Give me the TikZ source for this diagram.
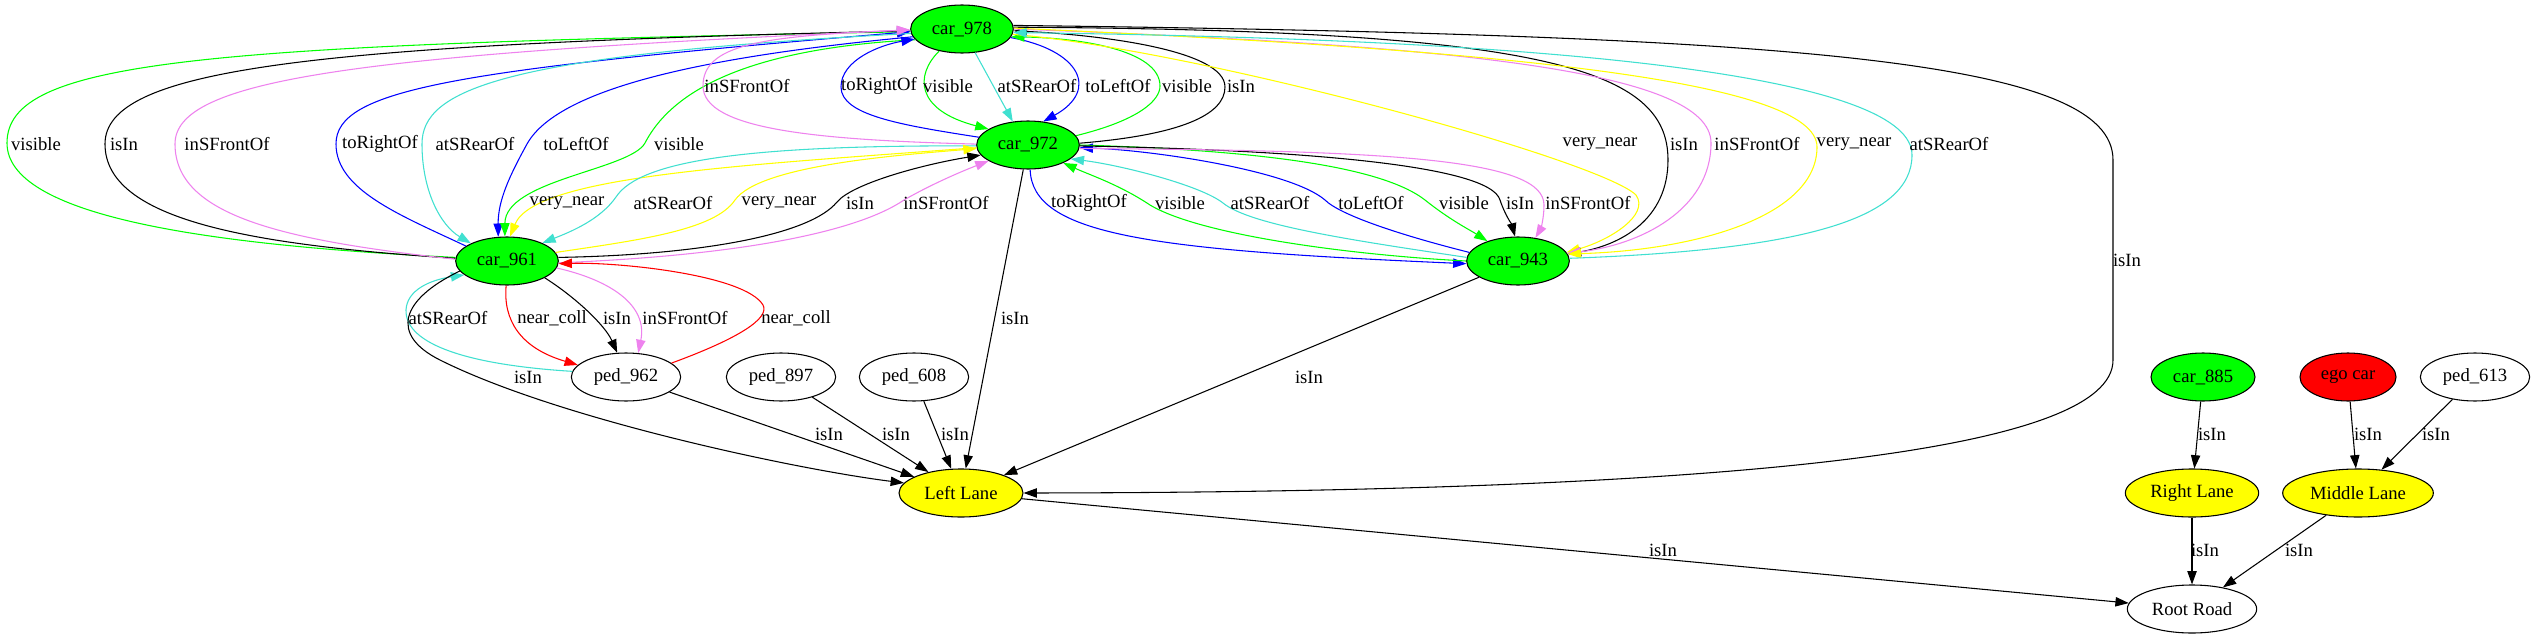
\documentclass[tikz,border=0pt]{standalone}
\usepackage{fontspec}
\setmainfont{Liberation Serif}
\usepackage{xcolor}
\definecolor{Lime}{HTML}{00FF00}
\definecolor{Turq}{HTML}{40E0D0}
\definecolor{Violet}{HTML}{EE82EE}
\definecolor{Yellow}{HTML}{FFFF00}
\definecolor{Blue}{HTML}{0000FF}
\definecolor{Red}{HTML}{FF0000}
\colorlet{lime}{Lime}
\colorlet{turq}{Turq}
\colorlet{viol}{Violet}
\colorlet{yell}{Yellow}
\colorlet{bluex}{Blue}
\colorlet{redx}{Red}
\usepackage{tikz}
\usetikzlibrary{arrows.meta,shapes.geometric}

\begin{document}
\begin{tikzpicture}[x=0.75pt,y=-0.75pt,
  every node/.style={font=\fontsize{14}{16}\selectfont},
  obj/.style={ellipse,draw,line width=0.8pt,minimum height=36pt,inner sep=0pt},
  car/.style={obj,fill=lime,minimum width=77pt},
  ped/.style={obj,fill=white,minimum width=82pt},
  lane/.style={obj,fill=yell},
  rel/.style={line width=0.8pt,-{Triangle[length=10pt,width=7pt]}},
  e vis/.style={rel,color=lime},
  e isin/.style={rel,color=black},
  e front/.style={rel,color=viol},
  e right/.style={rel,color=bluex},
  e left/.style={rel,color=bluex},
  e rear/.style={rel,color=turq},
  e vnear/.style={rel,color=yell},
  e coll/.style={rel,color=redx},
  lbl/.style={text=black,inner sep=0pt}]
\useasboundingbox (0,0) rectangle (2535,639);
\fill[white] (0,0) rectangle (2535,639);
% objects
\node[car] (c978) at (962,29) {car\_978};
\node[car] (c972) at (1028,145) {car\_972};
\node[car] (c961) at (507,261) {car\_961};
\node[car] (c943) at (1518,261) {car\_943};
\node[ped] (p962) at (626,377) {ped\_962};
\node[ped] (p897) at (781,377) {ped\_897};
\node[ped] (p608) at (914,377) {ped\_608};
\node[car,minimum width=78pt] (c885) at (2203,377) {car\_885};
\node[obj,fill=redx,minimum width=72pt] (ego) at (2348,377) {ego car};
\node[ped] (p613) at (2475,377) {ped\_613};
\node[lane,minimum width=93pt] (LL) at (961,493) {Left Lane};
\node[lane,minimum width=100pt] (RL) at (2192,493) {Right Lane};
\node[lane,minimum width=113pt] (ML) at (2358,493) {Middle Lane};
\node[ped,minimum width=97pt] (RR) at (2192,609) {Root Road};
% car_961 <-> car_978
\draw[e vis] (c961.176) .. controls (200,245) and (7,215) .. (7,143) .. controls (7,60) and (200,45) .. (c978.183) node[lbl] at (36,144) {visible};
\draw[e isin] (c961.177) .. controls (250,245) and (105,220) .. (105,144) .. controls (105,70) and (300,45) .. (c978.182) node[lbl] at (124,144) {isIn};
\draw[e front] (c961.178) .. controls (280,240) and (175,215) .. (175,144) .. controls (175,80) and (350,55) .. (c978.181) node[lbl] at (227,144) {inSFrontOf};
\draw[e right] (c961.160) .. controls (400,215) and (336,190) .. (336,144) .. controls (336,90) and (450,70) .. (c978.183) node[lbl] at (380,144) {toRightOf};
\draw[e rear] (c978.185) .. controls (500,55) and (422,90) .. (422,144) .. controls (422,190) and (440,225) .. (c961.154) node[lbl] at (475,144) {atSRearOf};
\draw[e left] (c978.189) .. controls (720,55) and (560,85) .. (527,144) .. controls (510,175) and (498,200) .. (c961.110) node[lbl] at (576,144) {toLeftOf};
\draw[e vis] (c978.193) .. controls (760,48) and (675,85) .. (645,143) .. controls (630,170) and (505,180) .. (c961.95) node[lbl] at (679,144) {visible};
% car_972 <-> car_978
\draw[e front] (c972.179) .. controls (820,140) and (703,130) .. (703,86) .. controls (703,45) and (760,36) .. (c978.181) node[lbl] at (747,86) {inSFrontOf};
\draw[e right] (c972.171) .. controls (900,125) and (841,115) .. (841,87) .. controls (841,60) and (880,45) .. (c978.192) node[lbl] at (879,86) {toRightOf};
\draw[e vis] (c978.224) .. controls (915,75) and (915,110) .. (c972.158) node[lbl] at (948,86) {visible};
\draw[e rear] (c978.299) -- (c972.123) node[lbl] at (1037,86) {atSRearOf};
\draw[e left] (c978.350) .. controls (1080,50) and (1100,90) .. (c972.57) node[lbl] at (1118,86) {toLeftOf};
\draw[e vis] (c972.11) .. controls (1140,120) and (1160,100) .. (1160,86) .. controls (1160,50) and (1080,38) .. (c978.351) node[lbl] at (1187,86) {visible};
\draw[e isin] (c972.2) .. controls (1180,135) and (1225,115) .. (1225,87) .. controls (1225,50) and (1100,35) .. (c978.358) node[lbl] at (1241,86) {isIn};
% car_978 <-> car_943
\draw[e vnear] (c978.354) .. controls (1200,50) and (1600,160) .. (1636,195) .. controls (1650,215) and (1610,240) .. (c943.10) node[lbl] at (1600,144) {very\_near};
\draw[e isin] (c978.2) .. controls (1550,30) and (1668,70) .. (1668,160) .. controls (1668,220) and (1620,245) .. (c943.8) node[lbl] at (1684,144) {isIn};
\draw[e front] (c978.0) .. controls (1450,45) and (1711,70) .. (1711,143) .. controls (1711,210) and (1640,245) .. (c943.9) node[lbl] at (1757,144) {inSFrontOf};
\draw[e vnear] (c978.1) .. controls (1500,50) and (1817,80) .. (1817,147) .. controls (1817,215) and (1700,250) .. (c943.8) node[lbl] at (1854,144) {very\_near};
\draw[e rear] (c943.3) .. controls (1800,250) and (1912,220) .. (1912,155) .. controls (1912,80) and (1600,40) .. (c978.356) node[lbl] at (1949,144) {atSRearOf};
\draw[e isin] (c978.4) .. controls (1800,35) and (2113,60) .. (2113,160) -- (2113,360) .. controls (2113,450) and (1750,492) .. (LL.0) node[lbl] at (2127,260) {isIn};
% car_972 <-> car_961
\draw[e vnear] (c972.183) .. controls (750,165) and (535,175) .. (c961.83) node[lbl] at (567,203) {very\_near};
\draw[e rear] (c972.181) .. controls (750,145) and (640,160) .. (616,197) .. controls (600,220) and (570,232) .. (c961.27) node[lbl] at (673,203) {atSRearOf};
\draw[e vnear] (c961.10) .. controls (640,240) and (715,230) .. (735,200) .. controls (760,165) and (900,155) .. (c972.184) node[lbl] at (779,203) {very\_near};
\draw[e isin] (c961.4) .. controls (700,255) and (810,235) .. (837,202) .. controls (852,184) and (920,165) .. (c972.192) node[lbl] at (860,203) {isIn};
\draw[e front] (c961.358) .. controls (750,255) and (860,230) .. (904,200) .. controls (930,185) and (960,172) .. (c972.202) node[lbl] at (946,203) {inSFrontOf};
% car_972 <-> car_943
\draw[e right] (c972.275) .. controls (1032,235) and (1150,250) .. (c943.183) node[lbl] at (1089,203) {toRightOf};
\draw[e vis] (c943.180) .. controls (1350,255) and (1200,235) .. (1150,205) .. controls (1120,185) and (1090,175) .. (c972.333) node[lbl] at (1180,203) {visible};
\draw[e rear] (c943.176) .. controls (1350,240) and (1250,225) .. (1223,203) .. controls (1200,185) and (1120,165) .. (c972.342) node[lbl] at (1270,203) {atSRearOf};
\draw[e left] (c943.170) .. controls (1400,235) and (1340,215) .. (1325,200) .. controls (1290,170) and (1150,150) .. (c972.357) node[lbl] at (1371,203) {toLeftOf};
\draw[e vis] (c972.0) .. controls (1250,150) and (1380,165) .. (1425,200) .. controls (1450,220) and (1470,230) .. (c943.147) node[lbl] at (1464,203) {visible};
\draw[e isin] (c972.359) .. controls (1300,150) and (1490,165) .. (1500,200) .. controls (1505,215) and (1512,225) .. (c943.97) node[lbl] at (1520,203) {isIn};
\draw[e front] (c972.356) .. controls (1400,150) and (1544,160) .. (1544,205) .. controls (1544,220) and (1540,230) .. (c943.53) node[lbl] at (1588,203) {inSFrontOf};
% car_961 <-> ped_962
\draw[e coll] (c961.268) .. controls (503,320) and (520,348) .. (p962.166) node[lbl] at (552,318) {near\_coll};
\draw[e isin] (c961.336) .. controls (575,297) and (605,325) .. (p962.110) node[lbl] at (617,318) {isIn};
\draw[e front] (c961.352) .. controls (610,280) and (648,305) .. (p962.63) node[lbl] at (685,318) {inSFrontOf};
\draw[e coll] (p962.17) .. controls (740,338) and (770,318) .. (763,305) .. controls (745,275) and (620,262) .. (c961.357) node[lbl] at (796,318) {near\_coll};
\draw[e rear] (p962.174) .. controls (470,365) and (405,345) .. (406,310) .. controls (407,290) and (430,280) .. (c961.198) node[lbl] at (448,318) {atSRearOf};
% into the lanes
\draw[e isin] (c961.192) .. controls (400,300) and (390,335) .. (440,360) .. controls (560,420) and (800,470) .. (LL.170) node[lbl] at (528,377) {isIn};
\draw[e isin] (p962) -- (LL) node[lbl] at (829,434) {isIn};
\draw[e isin] (p897) -- (LL) node[lbl] at (896,434) {isIn};
\draw[e isin] (p608) -- (LL) node[lbl] at (955,434) {isIn};
\draw[e isin] (c972) -- (LL) node[lbl] at (1015,318) {isIn};
\draw[e isin] (c943) -- (LL) node[lbl] at (1309,377) {isIn};
\draw[e isin] (c885) -- (RL) node[lbl] at (2212,434) {isIn};
\draw[e isin] (ego) -- (ML) node[lbl] at (2368,434) {isIn};
\draw[e isin] (p613) -- (ML) node[lbl] at (2436,434) {isIn};
\draw[e isin] (LL) -- (RR) node[lbl] at (1663,550) {isIn};
\draw[e isin] (RL) -- (RR) node[lbl] at (2205,550) {isIn};
\draw[e isin] (ML) -- (RR) node[lbl] at (2299,550) {isIn};
\end{tikzpicture}
\end{document}
